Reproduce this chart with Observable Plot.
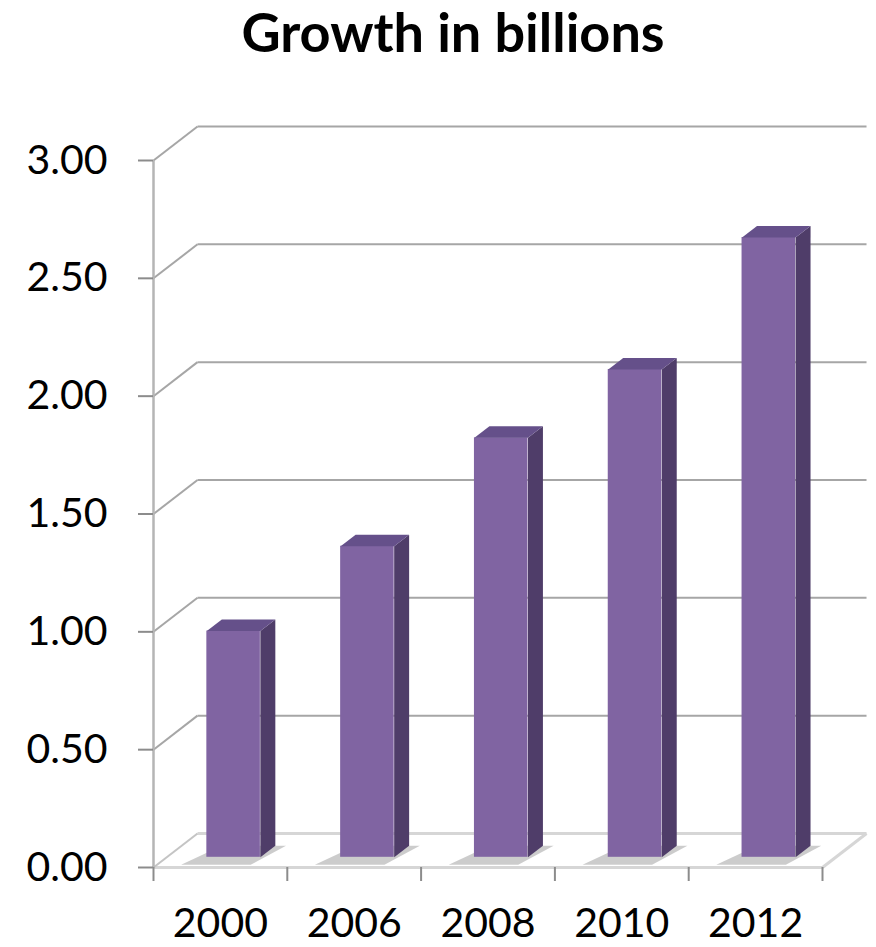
<!DOCTYPE html>
<html><head><meta charset="utf-8">
<script src="https://cdn.jsdelivr.net/npm/d3@7"></script>
<script src="https://cdn.jsdelivr.net/npm/@observablehq/plot@0.6"></script>
<style>
body{margin:0;background:#fff;width:876px;height:947px;overflow:hidden;position:relative;font-family:Lato,sans-serif}
#title{position:absolute;left:30px;top:5px;width:846px;text-align:center;font:bold 54px/54px Lato,sans-serif;color:#000}
#chart{position:absolute;left:0;top:100px}
</style></head><body>
<div id="title">Growth in billions</div>
<div id="chart"></div>
<script>
const years = ["2000", "2006", "2008", "2010", "2012"];
const values = [0.96, 1.32, 1.78, 2.07, 2.63];
const yTicks = [0, 0.5, 1, 1.5, 2, 2.5, 3];

// depth of the 3D box, expressed in scale units
const DX = 0.329, DY = 0.1443;
// bar front / back depth fractions, bar half width inside band
const F0 = 0.3, F1 = 0.64, HW = 0.2;
const n = years.length;

const bars = values.map((v, i) => ({i, v, xl: i + 0.5 - HW, xr: i + 0.5 + HW}));
const poly = (id, pts) => pts.map(([x, y]) => ({id, x, y}));
const sides = bars.flatMap(b => poly(b.i, [
  [b.xr + F0 * DX, F0 * DY], [b.xr + F0 * DX, b.v + F0 * DY],
  [b.xr + F1 * DX, b.v + F1 * DY], [b.xr + F1 * DX, F1 * DY]]));
const tops = bars.flatMap(b => poly(b.i, [
  [b.xl + F0 * DX, b.v + F0 * DY], [b.xr + F0 * DX, b.v + F0 * DY],
  [b.xr + F1 * DX, b.v + F1 * DY], [b.xl + F1 * DX, b.v + F1 * DY]]));
const S0 = F0 - 0.22;
const shadows = bars.flatMap(b => poly(b.i, [
  [b.xl - 0.12 + S0 * DX, S0 * DY], [b.xr + S0 * DX, S0 * DY],
  [b.xr + 0.08 + F1 * DX, F1 * DY], [b.xl + F1 * DX, F1 * DY]]));

const grid = "#a6a6a6", floorC = "#d6d6d6";

const chart = Plot.plot({
  width: 876, height: 847,
  marginLeft: 153, marginRight: 54, marginTop: 60, marginBottom: 80,
  x: {type: "linear", domain: [0, n], axis: null},
  y: {domain: [0, 3], axis: null},
  style: {fontFamily: "Lato, sans-serif", background: "#fff", overflow: "visible", color: "#000"},
  marks: [
    // floor
    Plot.link([0], {x1: () => 0, y1: () => 0, x2: () => n, y2: () => 0, stroke: floorC, strokeWidth: 3}),
    Plot.link([0], {x1: () => n, y1: () => 0, x2: () => n + DX, y2: () => DY, stroke: floorC, strokeWidth: 3}),
    Plot.link([0], {x1: () => DX, y1: () => DY, x2: () => n + DX, y2: () => DY, stroke: floorC, strokeWidth: 3}),
    // back wall gridlines
    Plot.link(yTicks.filter(d => d > 0), {x1: () => DX, y1: d => d + DY, x2: () => n + DX, y2: d => d + DY, stroke: grid, strokeWidth: 2}),
    // side wall diagonals
    Plot.link(yTicks, {x1: () => 0, y1: d => d, x2: () => DX, y2: d => d + DY, stroke: d => d === 0 ? "#c4c4c4" : grid, strokeWidth: 2}),
    // y axis line
    Plot.ruleX([0], {y1: () => 0, y2: () => 3, stroke: "#b5b5b5", strokeWidth: 2.5}),
    // shadows
    Plot.line(shadows, {x: "x", y: "y", z: "id", curve: "linear-closed", fill: "#000", fillOpacity: 0.2, stroke: "none"}),
    // bars
    Plot.rect(bars, {x1: b => b.xl + F0 * DX, x2: b => b.xr + F0 * DX, y1: () => F0 * DY, y2: b => b.v + F0 * DY, fill: "#8064a2"}),
    Plot.line(sides, {x: "x", y: "y", z: "id", curve: "linear-closed", fill: "#4f3d69", stroke: "none"}),
    Plot.line(tops, {x: "x", y: "y", z: "id", curve: "linear-closed", fill: "#65508a", stroke: "none"}),
    // axes
    Plot.axisY(yTicks, {label: null, tickSize: 15, tickPadding: 31, tickFormat: d3.format(".2f"), fontSize: 41, stroke: "#8c8c8c", strokeWidth: 2, fill: "#000"}),
    Plot.axisX(d3.range(n + 1), {label: null, tickSize: 14, tickFormat: () => "", stroke: "#8c8c8c", strokeWidth: 2}),
    Plot.axisX(d3.range(n).map(i => i + 0.5), {label: null, tickSize: 0, tickPadding: 40, tickFormat: d => years[Math.floor(d)], fontSize: 41, fill: "#000"})
  ]
});
document.getElementById("chart").appendChild(chart);
</script>
</body></html>
